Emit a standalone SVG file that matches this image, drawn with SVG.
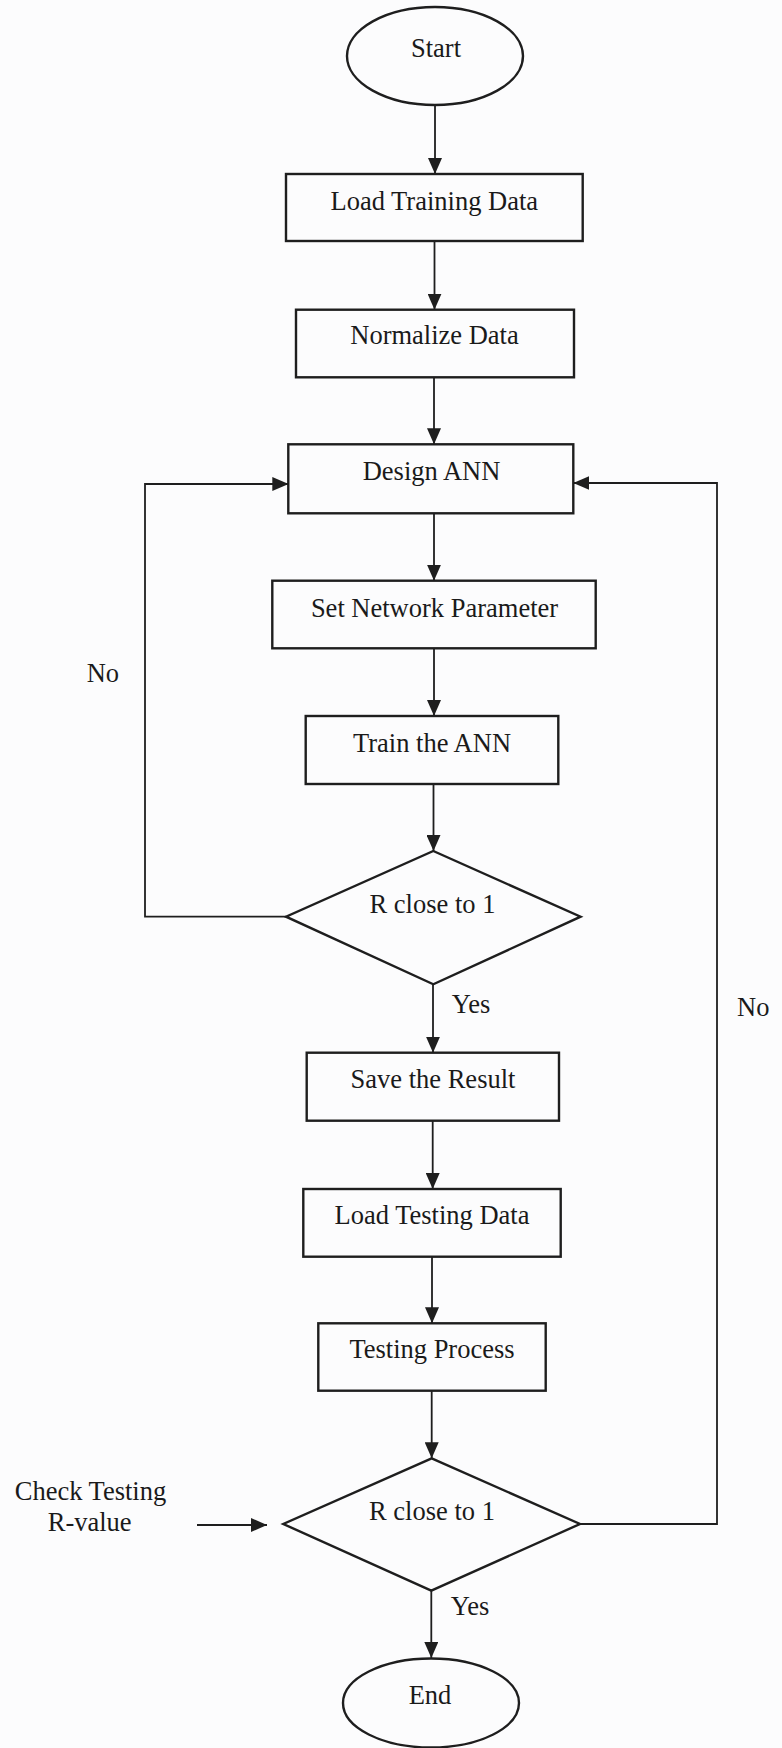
<svg xmlns="http://www.w3.org/2000/svg" width="782" height="1748" viewBox="0 0 782 1748">
<style>
.shape{fill:none;stroke:#1e1e1e;stroke-width:2.4}
.conn{fill:none;stroke:#1e1e1e;stroke-width:1.8}
text{font-family:"Liberation Serif","Times New Roman",serif;font-size:26.5px;fill:#1a1a1a}
.c{text-anchor:middle}
</style>
<defs>
<marker id="arr" viewBox="0 0 16 14" refX="16" refY="7" markerWidth="16" markerHeight="14" markerUnits="userSpaceOnUse" orient="auto">
<path d="M0,0 L16,7 L0,14 z" fill="#1e1e1e"/>
</marker>
</defs>
<rect width="782" height="1748" fill="#fcfcfd"/>
<g id="connectors">
<line class="conn" x1="435" y1="105" x2="435" y2="174" marker-end="url(#arr)"/>
<line class="conn" x1="434.5" y1="241" x2="434.5" y2="309.7" marker-end="url(#arr)"/>
<line class="conn" x1="434" y1="377.3" x2="434" y2="444.3" marker-end="url(#arr)"/>
<line class="conn" x1="434" y1="513.3" x2="434" y2="580.7" marker-end="url(#arr)"/>
<line class="conn" x1="434" y1="648.3" x2="434" y2="716" marker-end="url(#arr)"/>
<line class="conn" x1="433.5" y1="784" x2="433.5" y2="851" marker-end="url(#arr)"/>
<line class="conn" x1="433" y1="984.3" x2="433" y2="1052.7" marker-end="url(#arr)"/>
<line class="conn" x1="432.7" y1="1120.7" x2="432.7" y2="1189" marker-end="url(#arr)"/>
<line class="conn" x1="432" y1="1256.7" x2="432" y2="1323.3" marker-end="url(#arr)"/>
<line class="conn" x1="431.7" y1="1390.7" x2="431.7" y2="1458.3" marker-end="url(#arr)"/>
<line class="conn" x1="431.3" y1="1590.7" x2="431.3" y2="1658" marker-end="url(#arr)"/>
<polyline class="conn" points="286,916.7 145,916.7 145,484 288.3,484" marker-end="url(#arr)"/>
<polyline class="conn" points="580,1524 717,1524 717,483 573.3,483" marker-end="url(#arr)"/>
<line class="conn" x1="197" y1="1525" x2="267" y2="1525" stroke-width="2.4" marker-end="url(#arr)"/>
</g>
<g id="start"><ellipse class="shape" cx="435" cy="56" rx="88" ry="49"/><text class="c" x="436" y="57">Start</text></g>
<g id="load_training"><rect class="shape" x="286" y="174" width="296.7" height="67"/><text class="c" x="434.3" y="210">Load Training Data</text></g>
<g id="normalize"><rect class="shape" x="296" y="309.7" width="278" height="67.6"/><text class="c" x="434.5" y="344">Normalize Data</text></g>
<g id="design_ann"><rect class="shape" x="288.3" y="444.3" width="285" height="69"/><text class="c" x="431.5" y="480">Design ANN</text></g>
<g id="set_network"><rect class="shape" x="272.3" y="580.7" width="323.4" height="67.6"/><text class="c" x="434.5" y="617">Set Network Parameter</text></g>
<g id="train"><rect class="shape" x="305.7" y="716" width="252.6" height="68"/><text class="c" x="432" y="752">Train the ANN</text></g>
<g id="decision1"><polygon class="shape" points="433.3,851 580.6,916.7 433.3,984.3 286,916.7"/><text class="c" x="432.5" y="913">R close to 1</text></g>
<g id="save"><rect class="shape" x="306.7" y="1052.7" width="252.3" height="68"/><text class="c" x="433" y="1088">Save the Result</text></g>
<g id="load_testing"><rect class="shape" x="303.3" y="1189" width="257.4" height="67.7"/><text class="c" x="432" y="1224">Load Testing Data</text></g>
<g id="testing_process"><rect class="shape" x="318.3" y="1323.3" width="227.4" height="67.4"/><text class="c" x="432" y="1358">Testing Process</text></g>
<g id="decision2"><polygon class="shape" points="431.7,1458.3 580,1524 431.3,1590.7 283.3,1524"/><text class="c" x="432" y="1520">R close to 1</text></g>
<g id="end"><ellipse class="shape" cx="431" cy="1703" rx="88" ry="44.5"/><text class="c" x="430" y="1704">End</text></g>
<g id="labels">
<text x="451.7" y="1013">Yes</text>
<text x="450.7" y="1615">Yes</text>
<text x="86.7" y="682">No</text>
<text x="737" y="1016">No</text>
<text class="c" x="90.5" y="1500">Check Testing</text>
<text class="c" x="89.7" y="1531">R-value</text>
</g>
</svg>
